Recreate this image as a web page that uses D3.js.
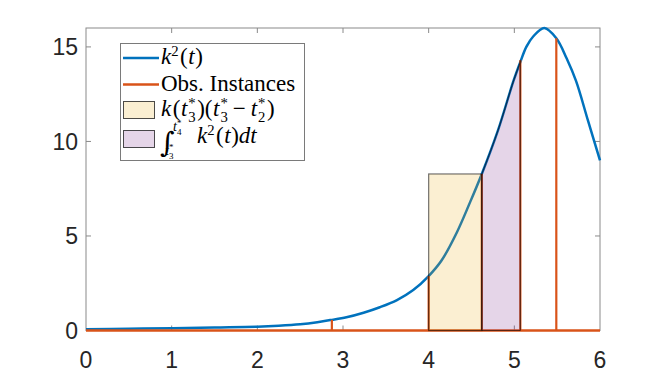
<!DOCTYPE html>
<html>
<head>
<meta charset="utf-8">
<script src="https://cdn.jsdelivr.net/npm/d3@7"></script>
<style>
  body { margin: 0; background: #fff; }
  svg { display: block; }
</style>
</head>
<body>
<div id="chart"></div>
<script>
// curve samples
const tVals  = [0, 0.5, 1, 1.5, 2, 2.25, 2.5, 2.7, 2.85, 3.04, 3.24, 3.43, 3.63, 3.82, 4.0, 4.15, 4.33, 4.48, 4.62, 4.81, 4.99, 5.07, 5.14, 5.22, 5.35, 5.49, 5.61, 5.72, 5.86, 6.0];
const k2Vals = [0.06, 0.09, 0.12, 0.16, 0.2, 0.25, 0.33, 0.44, 0.55, 0.70, 0.94, 1.23, 1.61, 2.14, 2.88, 3.7, 5.2, 6.75, 8.28, 10.6, 13.2, 14.2, 15.0, 15.55, 16.0, 15.46, 14.4, 13.2, 11.1, 9.0];

// observation instances
const obsT  = [2.87, 4.0, 4.62, 5.07, 5.49];
const obsK2 = [0.56, 2.88, 8.28, 14.3, 15.46];

// shaded regions
const rectX = [4.0, 4.62];
const rectH = 8.28;
const areaX = [4.62, 5.07];

const xTicks = [0, 1, 2, 3, 4, 5, 6];
const yTicks = [0, 5, 10, 15];

const W = 664, H = 372;
const pLeft = 86, pRight = 600, pTop = 28, pBottom = 330.5;

const BLUE = '#0072BD', ORANGE = '#D95319';

const svg = d3.select('#chart').append('svg')
  .attr('width', W).attr('height', H);

const x = d3.scaleLinear().domain([0, 6]).range([pLeft, pRight]);
const y = d3.scaleLinear().domain([0, 16]).range([pBottom, pTop]);

const data = tVals.map((t, i) => ({ t: t, v: k2Vals[i] }));

// axes box
svg.append('rect')
  .attr('x', pLeft).attr('y', pTop)
  .attr('width', pRight - pLeft).attr('height', pBottom - pTop)
  .attr('fill', 'none').attr('stroke', '#8a8a8a').attr('stroke-width', 1);

// inward ticks on all four sides
const tickLen = 5;
const tg = svg.append('g').attr('stroke', '#8a8a8a').attr('stroke-width', 1);
xTicks.slice(1, -1).forEach(d => {
  tg.append('line').attr('x1', x(d)).attr('x2', x(d)).attr('y1', pBottom).attr('y2', pBottom - tickLen);
  tg.append('line').attr('x1', x(d)).attr('x2', x(d)).attr('y1', pTop).attr('y2', pTop + tickLen);
});
yTicks.slice(1).forEach(d => {
  tg.append('line').attr('x1', pLeft).attr('x2', pLeft + tickLen).attr('y1', y(d)).attr('y2', y(d));
  tg.append('line').attr('x1', pRight).attr('x2', pRight - tickLen).attr('y1', y(d)).attr('y2', y(d));
});

// tick labels
svg.append('g').selectAll('text').data(xTicks).enter().append('text')
  .attr('x', d => x(d)).attr('y', 368)
  .attr('text-anchor', 'middle')
  .attr('font-family', 'Liberation Sans, Arial, sans-serif')
  .attr('font-size', 23).attr('fill', '#262626')
  .text(d => d);

svg.append('g').selectAll('text').data(yTicks).enter().append('text')
  .attr('x', 78).attr('y', d => y(d) + 8.5)
  .attr('text-anchor', 'end')
  .attr('font-family', 'Liberation Sans, Arial, sans-serif')
  .attr('font-size', 23).attr('fill', '#262626')
  .text(d => d);

// k^2(t) curve
const curve = d3.curveCatmullRom.alpha(0.5);
const line = d3.line().x(d => x(d.t)).y(d => y(d.v)).curve(curve);
svg.append('path').datum(data)
  .attr('d', line)
  .attr('fill', 'none').attr('stroke', BLUE).attr('stroke-width', 2.5);

// observation instances
svg.append('line')
  .attr('x1', x(0)).attr('x2', x(6)).attr('y1', y(0)).attr('y2', y(0))
  .attr('stroke', ORANGE).attr('stroke-width', 2.5);
svg.append('g').selectAll('line').data(obsT).enter().append('line')
  .attr('x1', d => x(d)).attr('x2', d => x(d))
  .attr('y1', y(0)).attr('y2', (d, i) => y(obsK2[i]))
  .attr('stroke', ORANGE).attr('stroke-width', 2.2);

// rectangle k(t3)(t3 - t2)
svg.append('rect')
  .attr('x', x(rectX[0])).attr('y', y(rectH))
  .attr('width', x(rectX[1]) - x(rectX[0])).attr('height', y(0) - y(rectH))
  .attr('fill', '#EDB120').attr('fill-opacity', 0.2)
  .attr('stroke', '#000').attr('stroke-opacity', 0.55).attr('stroke-width', 1.2);

// integral area, clipped from the full curve
svg.append('clipPath').attr('id', 'areaClip')
  .append('rect')
  .attr('x', x(areaX[0])).attr('y', 0)
  .attr('width', x(areaX[1]) - x(areaX[0])).attr('height', H);
const area = d3.area().x(d => x(d.t)).y0(y(0)).y1(d => y(d.v)).curve(curve);
svg.append('path').datum(data)
  .attr('d', area)
  .attr('clip-path', 'url(#areaClip)')
  .attr('fill', '#7E2F8E').attr('fill-opacity', 0.2)
  .attr('stroke', '#000').attr('stroke-opacity', 0.55).attr('stroke-width', 1.2);
areaX.forEach(d => {
  svg.append('line')
    .attr('x1', x(d)).attr('x2', x(d))
    .attr('y1', y(0)).attr('y2', y(obsK2[obsT.indexOf(d)]))
    .attr('stroke', '#000').attr('stroke-opacity', 0.55).attr('stroke-width', 1.2);
});

// ---- legend ----
const lg = svg.append('g');
lg.append('rect')
  .attr('x', 120.5).attr('y', 43.5).attr('width', 184).attr('height', 117)
  .attr('fill', '#fff').attr('stroke', '#7a7a7a').attr('stroke-width', 1);

lg.append('line').attr('x1', 123).attr('x2', 159).attr('y1', 58).attr('y2', 58)
  .attr('stroke', BLUE).attr('stroke-width', 2.5);
lg.append('line').attr('x1', 123).attr('x2', 159).attr('y1', 84.5).attr('y2', 84.5)
  .attr('stroke', ORANGE).attr('stroke-width', 2.5);
lg.append('rect').attr('x', 123.5).attr('y', 101.5).attr('width', 31).attr('height', 17)
  .attr('fill', '#EDB120').attr('fill-opacity', 0.2)
  .attr('stroke', '#000').attr('stroke-opacity', 0.7);
lg.append('rect').attr('x', 123.5).attr('y', 130.5).attr('width', 31).attr('height', 17)
  .attr('fill', '#7E2F8E').attr('fill-opacity', 0.2)
  .attr('stroke', '#000').attr('stroke-opacity', 0.7);

const SERIF = 'Liberation Serif, DejaVu Serif, serif';
const FS = 23;

// lays out a row of math tokens left to right; returns end x
function mathRow(g, x0, y0, tokens, fs) {
  let cx = x0;
  tokens.forEach(tok => {
    const size = tok.fs || fs;
    let w = 0;
    if (tok.s) {
      const t = g.append('text')
        .attr('x', cx).attr('y', y0)
        .attr('font-family', SERIF).attr('font-size', size)
        .attr('font-style', tok.it ? 'italic' : 'normal')
        .attr('fill', '#000')
        .text(tok.s);
      w = t.node().getComputedTextLength() + (tok.pad || 0);
    }
    let w2 = 0;
    const small = size * 0.64;
    if (tok.sup) {
      const t = g.append('text').attr('x', cx + w).attr('y', y0 - size * 0.36)
        .attr('font-family', SERIF).attr('font-size', small).text(tok.sup);
      w2 = Math.max(w2, t.node().getComputedTextLength());
    }
    if (tok.sub) {
      const t = g.append('text').attr('x', cx + w).attr('y', y0 + size * 0.26)
        .attr('font-family', SERIF).attr('font-size', small).text(tok.sub);
      w2 = Math.max(w2, t.node().getComputedTextLength());
    }
    cx += w + w2 + (tok.after || 0);
  });
  return cx;
}

const tx = 161;
mathRow(lg, tx, 64, [
  { s: 'k', it: true, sup: '2', after: 1.5 },
  { s: '(', after: 0.5 }, { s: 't', it: true, after: 0.5 }, { s: ')' }
], FS);

lg.append('text').attr('x', tx).attr('y', 91)
  .attr('font-family', SERIF).attr('font-size', FS).text('Obs. Instances');

mathRow(lg, tx, 116, [
  { s: 'k', it: true, after: 1.5 }, { s: '(', after: 0.5 },
  { s: 't', it: true, pad: 1, sup: '*', sub: '3', after: 1.5 }, { s: ')' },
  { s: '(', after: 0.5 }, { s: 't', it: true, pad: 1, sup: '*', sub: '3', after: 5 },
  { s: '\u2212', after: 5 },
  { s: 't', it: true, pad: 1, sup: '*', sub: '2', after: 1.5 }, { s: ')' }
], FS);

// integral with limits
lg.append('text').attr('x', tx - 1).attr('y', 152)
  .attr('font-family', 'DejaVu Serif, serif').attr('font-style', 'italic')
  .attr('font-size', 28).text('\u222B');
mathRow(lg, tx + 12, 131, [{ s: 't', it: true, fs: 14, sup: '*', sub: '4' }], 14);
mathRow(lg, tx + 4, 155, [{ s: 't', it: true, fs: 14, sup: '*', sub: '3' }], 14);
mathRow(lg, tx + 36, 143, [
  { s: 'k', it: true, sup: '2', after: 1.5 },
  { s: '(', after: 0.5 }, { s: 't', it: true, after: 0.5 }, { s: ')' },
  { s: 'dt', it: true }
], FS);
</script>
</body>
</html>
